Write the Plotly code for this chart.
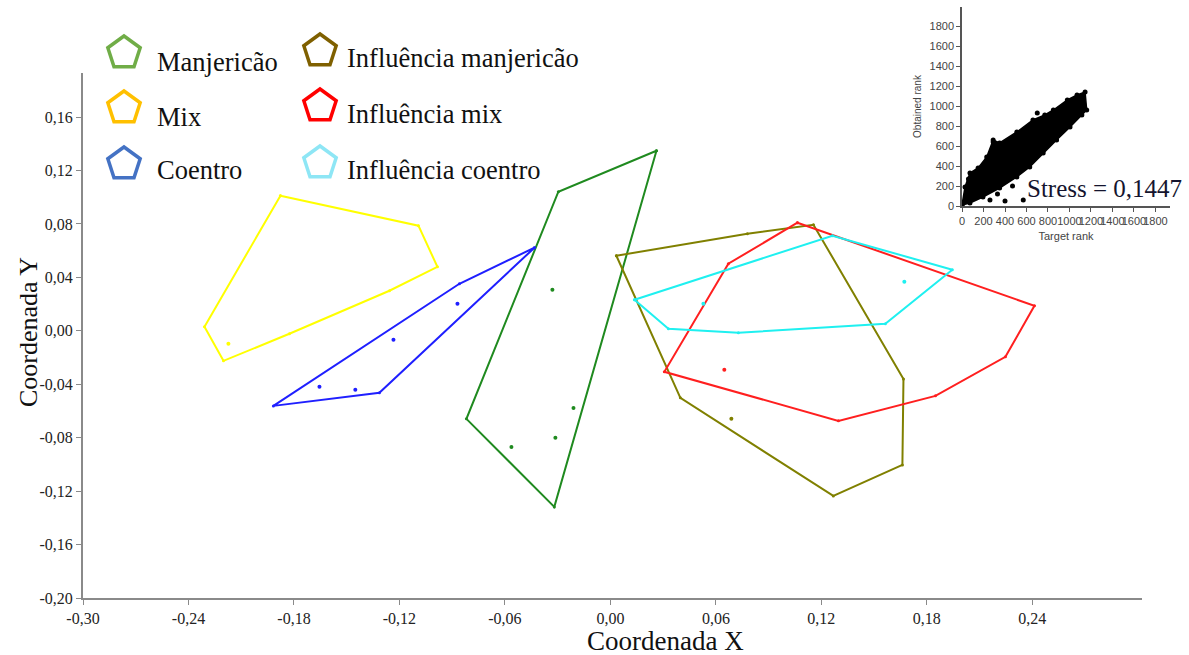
import plotly.graph_objects as go

# ---- MDS configuration: hull outline (in drawing order) and inner points per group ----
manj_hull_x = [0.0262, -0.0296, -0.0819, -0.0319]
manj_hull_y = [0.1348, 0.1041, -0.0659, -0.1318]
manj_in_x = [-0.0330, -0.0210, -0.0313, -0.0563]
manj_in_y = [0.0307, -0.0577, -0.0801, -0.0869]

mix_hull_x = [-0.1877, -0.1092, -0.0984, -0.1257, -0.1826, -0.2201, -0.2309]
mix_hull_y = [0.1011, 0.0787, 0.0479, 0.0300, -0.0022, -0.0225, 0.0030]
mix_in_x = [-0.2173]
mix_in_y = [-0.0097]

coen_hull_x = [-0.0432, -0.0859, -0.1917, -0.1314]
coen_hull_y = [0.0622, 0.0352, -0.0562, -0.0464]
coen_in_x = [-0.0870, -0.1234, -0.1655, -0.1451]
coen_in_y = [0.0202, -0.0067, -0.0419, -0.0442]

inf_manj_hull_x = [0.0034, 0.0779, 0.1155, 0.1667, 0.1661, 0.1268, 0.0398]
inf_manj_hull_y = [0.0562, 0.0727, 0.0794, -0.0360, -0.1004, -0.1236, -0.0502]
inf_manj_in_x = [0.0688]
inf_manj_in_y = [-0.0659]

inf_mix_hull_x = [0.1064, 0.2412, 0.2247, 0.1849, 0.1297, 0.0307, 0.0671]
inf_mix_hull_y = [0.0809, 0.0187, -0.0195, -0.0487, -0.0674, -0.0307, 0.0502]
inf_mix_in_x = [0.0648]
inf_mix_in_y = [-0.0292]

inf_coen_hull_x = [0.0137, 0.1263, 0.1945, 0.1564, 0.0728, 0.0330]
inf_coen_hull_y = [0.0232, 0.0712, 0.0457, 0.0052, -0.0015, 0.0015]
inf_coen_in_x = [0.1672, 0.0529]
inf_coen_in_y = [0.0367, 0.0202]

group_names = ["Manjericão", "Mix", "Coentro",
               "Influência manjericão", "Influência mix", "Influência coentro"]

# axis ticks
x_ticks = [-0.30, -0.24, -0.18, -0.12, -0.06, 0.00, 0.06, 0.12, 0.18, 0.24]
x_tick_text = ["-0,30", "-0,24", "-0,18", "-0,12", "-0,06", "0,00", "0,06", "0,12", "0,18", "0,24"]
y_ticks = [-0.20, -0.16, -0.12, -0.08, -0.04, 0.00, 0.04, 0.08, 0.12, 0.16]
y_tick_text = ["-0,20", "-0,16", "-0,12", "-0,08", "-0,04", "0,00", "0,04", "0,08", "0,12", "0,16"]

# ---- Shepard diagram (inset): outline of the dense point cloud and stray points ----
shep_target = [0, 28, 74, 150, 230, 290, 350, 510, 660, 770, 850, 980, 1070, 1145,
               1160, 1115, 1005, 880, 755, 630, 510, 350, 195, 74]
shep_obtained = [10, 190, 330, 380, 490, 660, 630, 740, 860, 910, 960, 1060, 1110, 1140,
                 960, 910, 790, 660, 530, 390, 290, 180, 90, 30]
stray_target = [260, 400, 570, 330, 470, 290, 700, 60, 130]
stray_obtained = [60, 50, 60, 120, 200, 640, 930, 270, 330]
stress_value = "0,1447"
shep_ticks = [0, 200, 400, 600, 800, 1000, 1200, 1400, 1600, 1800]

line_colors = ["#1f8a1f", "#ffff00", "#1f1fff", "#808000", "#ff1f1f", "#1ff0f0"]
legend_colors = ["#70ad47", "#ffc000", "#4472c4", "#7f6000", "#ff0000", "#8ee6f5"]

groups = [
    (manj_hull_x, manj_hull_y, manj_in_x, manj_in_y),
    (mix_hull_x, mix_hull_y, mix_in_x, mix_in_y),
    (coen_hull_x, coen_hull_y, coen_in_x, coen_in_y),
    (inf_manj_hull_x, inf_manj_hull_y, inf_manj_in_x, inf_manj_in_y),
    (inf_mix_hull_x, inf_mix_hull_y, inf_mix_in_x, inf_mix_in_y),
    (inf_coen_hull_x, inf_coen_hull_y, inf_coen_in_x, inf_coen_in_y),
]

# page geometry (pixels)
W, H = 1189, 655
L, R, T, B = 83, 1180, 5, 598          # plot area
X_END = 1142                           # right end of main x axis
Y_TOP = 73                             # top of main y axis
SERIF = "Liberation Serif, Times New Roman, serif"
SANS = "Liberation Sans, Arial, sans-serif"
pw, ph = R - L, B - T


def px_to_paper(px, py):
    return (px - L) / pw, (B - py) / ph


fig = go.Figure()

for (hx, hy, ix, iy), col, name in zip(groups, line_colors, group_names):
    fig.add_trace(go.Scatter(
        x=hx + hx[:1], y=hy + hy[:1], mode="lines+markers", name=name,
        line=dict(color=col, width=2), marker=dict(color=col, size=3),
        showlegend=False, hoverinfo="skip"))
    fig.add_trace(go.Scatter(
        x=ix, y=iy, mode="markers", marker=dict(color=col, size=4),
        showlegend=False, hoverinfo="skip"))

# legend: open pentagons with labels, placed in page-pixel coordinates
leg_pos = [(124, 53, 155, 62), (124, 108, 155, 117), (124, 164, 155, 170),
           (320, 51, 345, 58), (320, 106, 345, 114), (320, 163, 345, 170)]
for (mx, my, tx, ty), col, name in zip(leg_pos, legend_colors, group_names):
    fig.add_trace(go.Scatter(
        x=[mx], y=[my], xaxis="x2", yaxis="y2", mode="markers", cliponaxis=False,
        marker=dict(symbol="pentagon-open", size=34, color=col, line=dict(width=3.5, color=col)),
        showlegend=False, hoverinfo="skip"))
    fig.add_annotation(x=tx, y=ty, xref="x2", yref="y2", text=name, showarrow=False,
                       xanchor="left", yanchor="middle",
                       font=dict(family=SERIF, size=26.5, color="#111111"))

# inset Shepard plot
fig.add_trace(go.Scatter(
    x=shep_target + shep_target[:1], y=shep_obtained + shep_obtained[:1],
    xaxis="x3", yaxis="y3", mode="lines+markers", fill="toself", fillcolor="black",
    line=dict(color="black", width=1.5), marker=dict(color="black", size=5),
    showlegend=False, hoverinfo="skip"))
fig.add_trace(go.Scatter(
    x=stray_target, y=stray_obtained, xaxis="x3", yaxis="y3", mode="markers",
    marker=dict(color="black", size=5), showlegend=False, hoverinfo="skip"))
fig.add_annotation(x=1104, y=188, xref="x2", yref="y2", text="Stress = " + stress_value,
                   showarrow=False, xanchor="center", yanchor="middle",
                   font=dict(family=SERIF, size=25, color="#14142e"))

# axis titles (paper coordinates so they sit outside the plotting area)
tx_, ty_ = px_to_paper(665, 641)
fig.add_annotation(x=tx_, y=ty_, xref="paper", yref="paper", text="Coordenada X",
                   showarrow=False, xanchor="center", yanchor="middle",
                   font=dict(family=SERIF, size=27, color="#111111"))
tx_, ty_ = px_to_paper(28, 332)
fig.add_annotation(x=tx_, y=ty_, xref="paper", yref="paper", text="Coordenada Y",
                   showarrow=False, textangle=-90, xanchor="center", yanchor="middle",
                   font=dict(family=SERIF, size=26, color="#111111"))

axis_grey = "#8a8a8a"
inset_grey = "#555555"
fig.update_layout(
    width=W, height=H,
    margin=dict(l=L, r=W - R, t=T, b=H - B, pad=0),
    paper_bgcolor="white", plot_bgcolor="rgba(0,0,0,0)",
    xaxis=dict(domain=[0, (X_END - L) / pw],
               range=[-0.30, -0.30 + (X_END - L) / 1758.0],
               tickvals=x_ticks, ticktext=x_tick_text,
               showgrid=False, zeroline=False, showline=True, linecolor=axis_grey, linewidth=2,
               ticks="outside", ticklen=5, tickcolor=axis_grey, tickwidth=1,
               tickfont=dict(family=SERIF, size=16, color="#222222")),
    yaxis=dict(domain=[0, (B - Y_TOP) / ph],
               range=[-0.20, -0.20 + (B - Y_TOP) / 1336.0],
               tickvals=y_ticks, ticktext=y_tick_text,
               showgrid=False, zeroline=False, showline=True, linecolor=axis_grey, linewidth=2,
               ticks="outside", ticklen=5, tickcolor=axis_grey, tickwidth=1,
               tickfont=dict(family=SERIF, size=16, color="#222222")),
    xaxis2=dict(domain=[0, 1], range=[L, R], anchor="y2", visible=False),
    yaxis2=dict(domain=[0, 1], range=[B, T], anchor="x2", visible=False),
    xaxis3=dict(domain=[(962 - L) / pw, (1170 - L) / pw], range=[0, 1935], anchor="y3",
                tickvals=shep_ticks, tickangle=0, showgrid=False, zeroline=False,
                showline=True, linecolor=inset_grey, linewidth=1.5,
                ticks="outside", ticklen=4, tickcolor=inset_grey,
                tickfont=dict(family=SANS, size=11, color="#444444"),
                title=dict(text="Target rank", font=dict(family=SANS, size=11, color="#444444"),
                           standoff=6)),
    yaxis3=dict(domain=[(B - 206) / ph, (B - 7) / ph], range=[0, 1990], anchor="x3",
                tickvals=shep_ticks, showgrid=False, zeroline=False,
                showline=True, linecolor=inset_grey, linewidth=1.5,
                ticks="outside", ticklen=4, tickcolor=inset_grey,
                tickfont=dict(family=SANS, size=11, color="#444444"),
                title=dict(text="Obtained rank", font=dict(family=SANS, size=10, color="#444444"),
                           standoff=6)),
)

fig.write_html("out.html")
